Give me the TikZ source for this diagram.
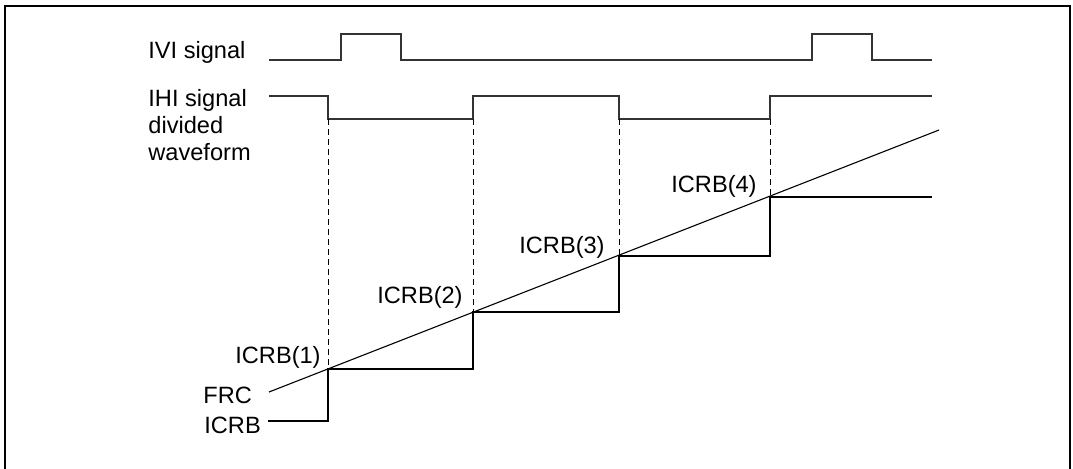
\documentclass[tikz,border=0pt]{standalone}
\usepackage{fontspec}
\setmainfont{Liberation Sans}
\usetikzlibrary{positioning}

\begin{document}
\begin{tikzpicture}[x=0.5pt, y=-0.5pt,   % one unit = one pixel of the drawing
    wave/.style={line width=0.8pt, black!80},
    ramp/.style={line width=0.55pt, black},
    guide/.style={line width=0.4pt, dash pattern=on 3pt off 2pt},
    lbl/.style={inner sep=0pt, anchor=base west,
        font=\fontsize{11.8}{13.5}\selectfont},
    capt/.style={lbl, anchor=base east}
]
    \useasboundingbox (0,0) rectangle (1073,468);

    % 0. The frame
    \draw [line width=1pt] (5,6) rectangle (1070,472);

    % 1. The signal names
    \node [lbl] (ivi) at (148,58) {IVI signal};
    \node [lbl] (ihi) at (148,106) {IHI signal};
    \node [lbl] (ihiB) at (148,133) {divided};
    \node [lbl] (ihiC) at (148,160) {waveform};
    \node [lbl] (frc) at (203,403) {FRC};
    \node [lbl] (icrb) at (204,433) {ICRB};

    % 2. The capture points on the FRC ramp
    \coordinate (f0) at (269,392);
    \coordinate (f1) at (939,130);
    \coordinate (c1) at (328,369);
    \coordinate (c2) at (473,312);
    \coordinate (c3) at (619,256);
    \coordinate (c4) at (770,197);

    % 3. The waveforms
    \draw [wave] (269,60) -- (341,60) -- (341,34) -- (401,34) -- (401,60)
        -- (812,60) -- (812,34) -- (872,34) -- (872,60) -- (932,60);
    \draw [wave] (269,96) -- (328,96) -- (328,119) -- (473,119) -- (473,96)
        -- (619,96) -- (619,119) -- (770,119) -- (770,96) -- (932,96);

    % 4. FRC ramp and ICRB staircase
    \draw [ramp] (f0) -- (f1);
    \draw [ramp] (268,421) -- (c1 |- 0,421) -- (c1) -- (c2 |- c1) -- (c2)
        -- (c3 |- c2) -- (c3) -- (c4 |- c3) -- (c4) -- (932,197);

    % 5. The dashed edges
    \foreach \c in {c1,c2,c3,c4}
        \draw [guide] (\c |- 0,119) -- (\c);

    % 6. The captured values
    \node [capt] (cap1) at (321,363) {ICRB(1)};
    \node [capt] (cap2) at (463,303) {ICRB(2)};
    \node [capt] (cap3) at (605,253) {ICRB(3)};
    \node [capt] (cap4) at (757,192) {ICRB(4)};

\end{tikzpicture}
\end{document}
